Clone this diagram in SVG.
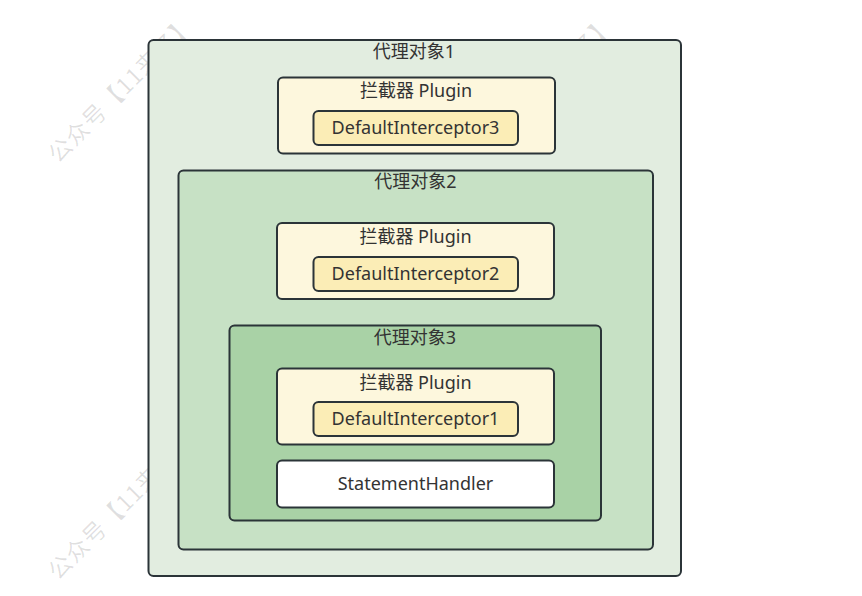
<svg xmlns="http://www.w3.org/2000/svg" width="862" height="596" viewBox="0 0 862 596">
<style>
.box{stroke:#2b3438;stroke-width:2}
.p1{fill:#e2ede0}
.p2{fill:#c7e1c5}
.p3{fill:#a9d2a6}
.pl{fill:#fdf7dd}
.di{fill:#fbedb6}
.sh{fill:#ffffff}
.t{font-family:"Noto Sans","Noto Sans CJK SC",sans-serif;font-size:18px;fill:#333333;text-anchor:middle}
.wm{font-family:"Noto Sans CJK SC",sans-serif;font-size:23px;fill:#000000;fill-opacity:0.12}
</style>
<rect width="862" height="596" fill="#ffffff"/>
<g id="watermarks">
<text class="wm" transform="translate(58,164) rotate(-45)" letter-spacing="1">公众号【11来了】</text>
<text class="wm" transform="translate(478,164) rotate(-45)" letter-spacing="1">公众号【11来了】</text>
<text class="wm" transform="translate(58,581) rotate(-45)" letter-spacing="1">公众号【11来了】</text>
</g>
<g id="proxy1">
<rect class="box p1" x="148.5" y="40" width="532.5" height="536" rx="5"/>
<text class="t" x="414" y="58">代理对象1</text>
</g>
<g id="plugin1">
<rect class="box pl" x="278" y="77.5" width="277" height="76" rx="5"/>
<text class="t" x="416" y="97">拦截器 Plugin</text>
</g>
<g id="interceptor3">
<rect class="box di" x="313.5" y="111" width="204.5" height="34" rx="5"/>
<text class="t" x="415.5" y="134">DefaultInterceptor3</text>
</g>
<g id="proxy2">
<rect class="box p2" x="178.5" y="170.5" width="474.5" height="379" rx="5"/>
<text class="t" x="415.5" y="188">代理对象2</text>
</g>
<g id="plugin2">
<rect class="box pl" x="277" y="223" width="277" height="76" rx="5"/>
<text class="t" x="415.5" y="243">拦截器 Plugin</text>
</g>
<g id="interceptor2">
<rect class="box di" x="313.5" y="257" width="204.5" height="34" rx="5"/>
<text class="t" x="415.5" y="280">DefaultInterceptor2</text>
</g>
<g id="proxy3">
<rect class="box p3" x="229.5" y="325.5" width="371.5" height="195" rx="5"/>
<text class="t" x="415" y="344">代理对象3</text>
</g>
<g id="plugin3">
<rect class="box pl" x="277" y="368.5" width="277" height="76" rx="5"/>
<text class="t" x="415.5" y="389">拦截器 Plugin</text>
</g>
<g id="interceptor1">
<rect class="box di" x="313.5" y="402" width="204.5" height="34" rx="5"/>
<text class="t" x="415.5" y="425">DefaultInterceptor1</text>
</g>
<g id="statementHandler">
<rect class="box sh" x="277" y="460.5" width="277" height="47" rx="5"/>
<text class="t" x="415.5" y="490">StatementHandler</text>
</g>
<g id="connectors"/>
</svg>
